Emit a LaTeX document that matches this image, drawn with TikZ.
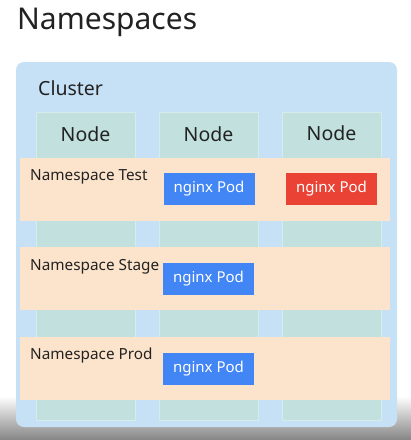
\documentclass[tikz,border=0pt]{standalone}
\usepackage{fontspec}
\setmainfont{Noto Sans}
\usepackage{tikz}
\usetikzlibrary{positioning}

\definecolor{clusterblue}{HTML}{C6E1F5}
\definecolor{nodegreen}{HTML}{C1E0DE}
\definecolor{nodeline}{HTML}{D6ECEA}
\definecolor{nspeach}{HTML}{FCE4CC}
\definecolor{podblue}{HTML}{4285F4}
\definecolor{podred}{HTML}{EA4335}
\definecolor{textgray}{HTML}{222222}

\begin{document}
\begin{tikzpicture}[>=latex,line join=bevel,x=1pt,y=-1pt,
  column/.style={draw=nodeline,line width=0.8pt,fill=nodegreen,minimum width=99pt,minimum height=308pt,inner sep=0pt},
  nsband/.style={fill=nspeach,minimum width=370pt,minimum height=63pt,inner sep=0pt},
  nslabel/.style={anchor=west,inner sep=0pt,text=textgray,font=\fontsize{15.3}{18}\selectfont},
  pod/.style={fill=podblue,text=white,minimum width=91pt,minimum height=32pt,inner sep=0pt,font=\fontsize{15}{18}\selectfont},
  nodelabel/.style={inner sep=0pt,text=textgray,font=\fontsize{19.5}{22}\selectfont}]
%%
  \useasboundingbox (0,0) rectangle (411,440);
  \fill[white] (0,0) rectangle (411,440);
  \shade[top color=white,bottom color=black!48] (0,396) rectangle (411,440);

  \node (title) at (17,22) [anchor=west,inner sep=0pt,text=textgray,font=\fontsize{30}{34}\selectfont] {Namespaces};

  \node (cluster) at (206.5,244.5) [fill=clusterblue,rounded corners=8pt,minimum width=381pt,minimum height=365pt,inner sep=0pt] {};
  \node (cluster_label) at (38,88) [nodelabel,anchor=west] {Cluster};

  \node (col_1) at (85.5,266) [column] {};
  \node (col_2) at (208.5,266) [column] {};
  \node (col_3) at (331.5,266) [column] {};

  \node (col_1_label) at (85.5,134) [nodelabel] {Node};
  \node (col_2_label) at (208.5,134) [nodelabel] {Node};
  \node (col_3_label) at (331.5,133) [nodelabel] {Node};

  \node (ns_test) at (205,189.5) [nsband] {};
  \node (ns_stage) at (205,278.5) [nsband] {};
  \node (ns_prod) at (205,368.5) [nsband] {};

  \node (ns_test_label) at (30,177) [nslabel] {Namespace Test};
  \node (ns_stage_label) at (30,267) [nslabel] {Namespace Stage};
  \node (ns_prod_label) at (30,356) [nslabel] {Namespace Prod};

  \node (pod_test_1) at (209,189) [pod] {nginx Pod};
  \node (pod_test_2) at (331.5,189) [pod,fill=podred] {nginx Pod};
  \node (pod_stage) at (208.5,278.5) [pod] {nginx Pod};
  \node (pod_prod) at (208.5,368.5) [pod] {nginx Pod};
%
\end{tikzpicture}
\end{document}
